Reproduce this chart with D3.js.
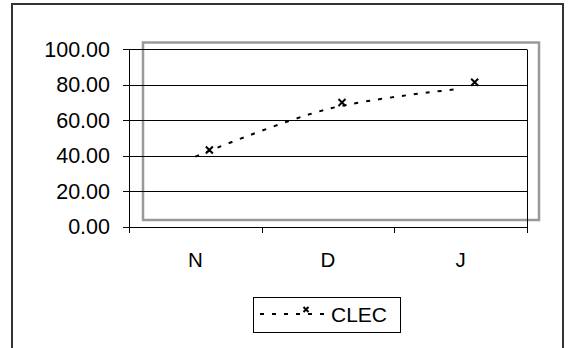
<!DOCTYPE html>
<html><head><meta charset="utf-8">
<script src="https://cdn.jsdelivr.net/npm/d3@7"></script>
<style>body{margin:0;background:#fff}svg{display:block}text{font-family:"Liberation Sans",Arial,sans-serif;fill:#000}</style>
</head><body>
<script>
const categories = ["N", "D", "J"];
const seriesName = "CLEC";
const values = [39.4, 66.2, 77.6];
const yTicks = [0, 20, 40, 60, 80, 100];

const W = 572, H = 348;
const svg = d3.select("body").append("svg").attr("width", W).attr("height", H);

// outer chart border
svg.append("path").attr("d", `M12,${H+2} L12,4 L563,4 L563,${H+2}`)
  .attr("fill", "none").attr("stroke", "#333").attr("stroke-width", 2);

const x = d3.scaleBand().domain(categories).range([129, 527]);
const y = d3.scaleLinear().domain([0, 100]).range([226.5, 49]);
const cx = d => x(d) + x.bandwidth() / 2;

// shifted plot-area frame (as in reference)
const shift = svg.append("g").attr("transform", "translate(14,-6.5)");
shift.append("rect").attr("x", x.range()[0]).attr("y", y(100))
  .attr("width", x.range()[1] - x.range()[0] - 2).attr("height", y(0) - y(100))
  .attr("fill", "none").attr("stroke", "#999").attr("stroke-width", 2.5);

// gridlines
svg.append("g").selectAll("line").data(yTicks).join("line")
  .attr("x1", 123).attr("x2", x.range()[1])
  .attr("y1", d => Math.round(y(d)) + 0.5).attr("y2", d => Math.round(y(d)) + 0.5)
  .attr("stroke", "#000").attr("stroke-width", 1);

// y axis line and right edge
[x.range()[0], x.range()[1]].forEach(px => {
  svg.append("line").attr("x1", px + 0.5).attr("x2", px + 0.5)
    .attr("y1", Math.round(y(100)) + 0.5).attr("y2", 233)
    .attr("stroke", "#000").attr("stroke-width", 1);
});
// category ticks
svg.append("g").selectAll("line").data(categories.slice(1)).join("line")
  .attr("x1", d => Math.round(x(d)) + 0.5).attr("x2", d => Math.round(x(d)) + 0.5)
  .attr("y1", Math.round(y(0)) + 0.5).attr("y2", 233)
  .attr("stroke", "#000");

// y tick labels
svg.append("g").selectAll("text").data(yTicks).join("text")
  .attr("x", 110).attr("y", d => y(d)).attr("dy", "0.36em")
  .attr("text-anchor", "end").attr("font-size", 21.5)
  .text(d => d3.format(".2f")(d));

// x labels
svg.append("g").selectAll("text").data(categories).join("text")
  .attr("x", cx).attr("y", 267).attr("text-anchor", "middle").attr("font-size", 20.5)
  .text(d => d);

// smoothed dashed series line
const pts = categories.map((c, i) => [cx(c), y(values[i])]);
svg.append("path").attr("d", d3.line().curve(d3.curveCatmullRom.alpha(0.5))(pts))
  .attr("fill", "none").attr("stroke", "#000").attr("stroke-width", 2)
  .attr("stroke-dasharray", "4,8");

// markers (drawn in shifted frame)
const xMark = (g, px, py, s) => {
  g.append("path").attr("d", `M${px-s},${py-s}L${px+s},${py+s}M${px-s},${py+s}L${px+s},${py-s}`)
    .attr("stroke", "#000").attr("stroke-width", 2).attr("fill", "none");
};
categories.forEach((c, i) => xMark(shift, cx(c), y(values[i]), 3.5));

// legend
const lg = svg.append("g");
lg.append("rect").attr("x", 253.5).attr("y", 297.5).attr("width", 147).attr("height", 35)
  .attr("fill", "#fff").attr("stroke", "#000").attr("stroke-width", 1);
lg.append("line").attr("x1", 260).attr("x2", 327).attr("y1", 314).attr("y2", 314)
  .attr("stroke", "#000").attr("stroke-width", 2).attr("stroke-dasharray", "4,8");
xMark(lg, 306, 309.5, 2.5);
lg.append("text").attr("x", 331).attr("y", 322).attr("font-size", 21).text(seriesName);
</script>
</body></html>
